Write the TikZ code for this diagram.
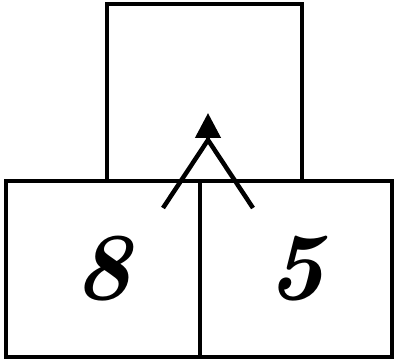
\documentclass[tikz,border=0pt]{standalone}
\usepackage{fontspec}
\usetikzlibrary{positioning}
\usetikzlibrary{arrows.meta}

\begin{document}
\begin{tikzpicture}[
    x=1pt, y=-1pt,
    cell/.style={rectangle, draw=black, line width=4.5pt, outer sep=0pt,
                 minimum width=194pt, minimum height=176pt,
                 font=\fontsize{96}{96}\selectfont\bfseries\itshape},
    arrow/.style={line width=4.5pt, -{Triangle[length=25pt,width=25pt]}}
]
    \useasboundingbox (0,0) rectangle (395,363);

    \node[cell] (left) at (103,269) {8};
    \node[cell, minimum width=192pt, right=0pt of left] (right) {5};
    \node[cell, minimum width=195pt, minimum height=177pt, above=0pt of left.north east, xshift=4.5pt] (sum) {};

    \coordinate (apex) at (208,140);
    \coordinate (tip) at (208,113);
    \coordinate (lfoot) at (163,208);
    \coordinate (rfoot) at (253,208);

    \draw[line width=4.5pt] (lfoot) -- (apex) -- (rfoot);
    \draw[arrow] (apex) -- (tip);
\end{tikzpicture}
\end{document}
